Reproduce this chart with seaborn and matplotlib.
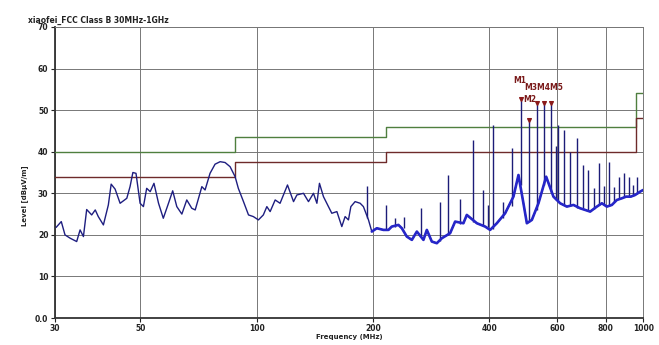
import numpy as np
import pandas as pd
import matplotlib
matplotlib.use("Agg")
import matplotlib.pyplot as plt
from matplotlib.ticker import FixedLocator, NullLocator
import seaborn as sns

trace_freq = [30.25, 31.2, 31.9, 32.9, 34.2, 34.9, 35.6, 36.3, 37.4, 38.2, 38.9, 40.1,
              41.3, 42.0, 43.0, 44.3, 46.1, 47.0, 47.8, 48.7, 49.9, 50.9, 51.9, 53.0,
              54.2, 55.7, 57.3, 59.1, 60.6, 62.1, 64.0, 65.9, 67.9, 69.3, 72.1, 73.5,
              75.7, 78.0, 80.4, 82.8, 85.3, 87.9, 89.6, 92.4, 95.2, 98.0, 101.0, 104.0,
              106.2, 108.3, 111.6, 114.9, 120.1, 124.5, 127.0, 132.1, 136.1, 140.2, 143.1,
              145.3, 148.8, 153.3, 156.4, 161.2, 166.0, 169.3, 172.7, 175.2, 179.7, 185.2,
              188.8, 194.6, 198.5, 204.5, 212.7, 219.2, 223.6, 232.6, 237.4, 244.5, 252.0,
              259.6, 270.0, 275.5, 283.8, 292.4, 301.3, 316.5, 326.1, 342.6, 349.6, 371.2,
              390.0, 401.7, 418.1, 439.3, 461.6, 475.6, 489.9, 500.0, 515.1, 535.8, 560.9,
              585.8, 609.7, 634.5, 660.0, 686.8, 707.7, 729.1, 758.8, 781.7, 805.3, 829.7,
              854.8, 880.7, 903.5, 929.1, 953.3, 982.0, 1000.0]
trace_level = [21.8, 23.2, 20.0, 19.2, 18.4, 21.2, 19.6, 26.1, 24.8, 26.0, 24.4, 22.4,
               27.2, 32.2, 31.0, 27.6, 28.8, 31.6, 35.0, 34.8, 27.6, 26.8, 31.2, 30.4,
               32.4, 27.6, 24.0, 27.6, 30.6, 26.8, 25.0, 28.4, 26.4, 26.0, 31.6, 30.8,
               34.8, 37.0, 37.6, 37.4, 36.4, 34.0, 31.2, 28.0, 24.8, 24.4, 23.6, 24.8,
               26.8, 25.6, 28.4, 27.6, 32.0, 28.0, 29.6, 30.0, 28.0, 30.0, 27.6,
               32.4, 29.2, 26.8, 25.2, 25.6, 22.0, 24.4, 23.6, 26.8, 28.0, 27.6,
               26.8, 23.6, 20.8, 21.6, 21.2, 21.2, 22.0, 22.4, 21.6, 19.6, 18.8,
               20.8, 18.8, 21.2, 18.4, 18.0, 19.2, 20.4, 23.2, 22.8, 24.8, 22.8,
               22.0, 21.2, 22.8, 25.2, 29.2, 34.4, 27.6, 22.8, 23.6, 27.6, 34.0,
               29.2, 27.6, 26.8, 27.2, 26.4, 26.0, 25.6, 26.8, 27.6, 26.8, 27.2,
               28.4, 28.8, 29.2, 29.2, 29.6, 30.4, 30.8]

# narrow emissions sticking out of the noise floor
spike_freq = [193.4, 216.5, 228.1, 240.6, 265.5, 298.2, 313.3, 336.6, 361.9, 384.6, 397.8,
              409.8, 433.3, 457.2, 482.4, 506.8, 530.6, 554.3, 577.9, 596.4, 603.6, 625.3,
              647.2, 674.7, 699.4, 720.5, 746.7, 770.6, 793.5, 817.9, 842.6, 867.9, 894.2,
              917.8, 940.1, 964.5]
spike_peak = [31.8, 27.2, 24.0, 24.4, 26.4, 28.0, 34.4, 28.6, 42.8, 30.8, 27.2,
              46.4, 28.0, 40.8, 52.6, 47.6, 51.8, 51.8, 51.8, 41.4, 46.4, 45.2,
              40.0, 43.2, 36.8, 35.6, 31.2, 37.2, 31.8, 37.6, 31.6, 34.0, 34.8,
              33.8, 32.0, 34.0]
spike_base = [24.0, 21.2, 22.0, 21.6, 19.6, 18.5, 20.0, 22.5, 23.0, 22.4, 22.0,
              21.5, 24.0, 27.0, 32.0, 23.0, 26.0, 32.0, 30.0, 28.5, 28.0, 27.2,
              27.0, 26.5, 26.2, 25.8, 26.3, 27.2, 27.2, 27.0, 27.8, 28.6, 29.0,
              29.2, 29.4, 29.8]

# FCC class B limit and the margin line
limit_freq = [30, 88, 216, 960, 1000]
limit_qp = [40, 43.5, 46, 54, 54]
limit_margin = [34, 37.5, 40, 48, 48]

marker_names = ["M1", "M2", "M3", "M4", "M5"]
marker_freq = [482.4, 506.8, 530.6, 554.3, 577.9]
marker_level = [52.6, 47.6, 51.8, 51.8, 51.8]

x_ticks = [30, 50, 100, 200, 400, 600, 800, 1000]
x_ticklabels = ["30", "50", "100", "200", "400", "600", "800", "1000"]
y_ticks = [0, 10, 20, 30, 40, 50, 60, 70]
y_ticklabels = ["0.0", "10", "20", "30", "40", "50", "60", "70"]

sns.set_theme(style="white")
plt.rcParams["font.family"] = ["DejaVu Sans"]

fig = plt.figure(figsize=(6.59, 3.45), dpi=100)
ax = fig.add_axes([0.083, 0.078, 0.893, 0.844])

trace = pd.DataFrame({"freq": trace_freq, "level": trace_level})
limits = pd.DataFrame({"freq": limit_freq, "qp": limit_qp, "margin": limit_margin})

sns.lineplot(data=limits, x="freq", y="qp", ax=ax, color="#4f7f3f", lw=1.0,
             drawstyle="steps-post", estimator=None, zorder=3)
sns.lineplot(data=limits, x="freq", y="margin", ax=ax, color="#6e2a2a", lw=1.0,
             drawstyle="steps-post", estimator=None, zorder=3)

ax.vlines(spike_freq, spike_base, spike_peak, color="#1c1c78", lw=1.0, zorder=4)
sns.lineplot(data=trace, x="freq", y="level", ax=ax, color="#1e1e80", lw=1.0,
             estimator=None, sort=False, zorder=5)
high = trace[trace["freq"] >= 195]
sns.lineplot(data=high, x="freq", y="level", ax=ax, color="#2626c8", lw=1.9,
             estimator=None, sort=False, zorder=5)

ax.scatter(marker_freq, marker_level, marker="v", s=7, color="#8b1a1a", zorder=6)
ax.annotate("M1", (marker_freq[0], marker_level[0]), xytext=(-1, 12),
            textcoords="offset points", ha="center", fontsize=5.5, color="#7a1a1a",
            fontweight="bold")
ax.annotate("M2", (marker_freq[0], marker_level[0]), xytext=(2, -2),
            textcoords="offset points", ha="left", fontsize=5.5, color="#7a1a1a",
            fontweight="bold")
ax.annotate("M3M4M5", (marker_freq[3], marker_level[3]), xytext=(0, 9),
            textcoords="offset points", ha="center", fontsize=5.5, color="#7a1a1a",
            fontweight="bold")

ax.set_xscale("log")
ax.set_xlim(30, 1000)
ax.set_ylim(0, 70)
ax.xaxis.set_major_locator(FixedLocator(x_ticks))
ax.xaxis.set_minor_locator(NullLocator())
ax.set_xticklabels(x_ticklabels)
ax.set_yticks(y_ticks)
ax.set_yticklabels(y_ticklabels)
ax.tick_params(axis="both", labelsize=5.5, colors="#222222", length=3, width=0.8,
               direction="out", pad=1.5, bottom=True, left=True)
for lab in ax.get_xticklabels() + ax.get_yticklabels():
    lab.set_fontweight("bold")

ax.grid(True, which="major", color="#777777", lw=0.7)
for side in ["top", "right"]:
    ax.spines[side].set_color("#777777")
    ax.spines[side].set_linewidth(0.7)
for side in ["left", "bottom"]:
    ax.spines[side].set_color("#333333")
    ax.spines[side].set_linewidth(1.3)

ax.set_xlabel("Frequency (MHz)", fontsize=5, fontweight="bold", color="#222222",
              labelpad=0.5)
ax.set_ylabel("Level [dBµV/m]", fontsize=5, fontweight="bold", color="#222222",
              labelpad=4)
ax.yaxis.set_label_coords(-0.045, 0.42)
ax.set_title("xiaofei_FCC Class B 30MHz-1GHz", fontsize=5.5, fontweight="bold",
             loc="left", x=-0.045, pad=3, color="#222222")

fig.savefig("out.png", dpi=100, facecolor="white")
